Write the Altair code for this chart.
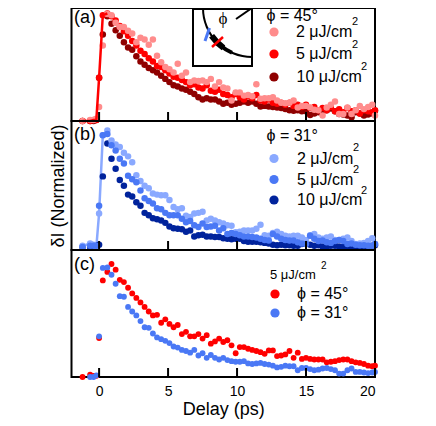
import altair as alt
import pandas as pd

delay = [-1.2,-0.65,-0.4,-0.2,0,0.27,0.6,0.9,
 1.2,1.5,1.8,2.1,2.4,2.7,3.0,3.3,3.6,3.9,4.2,4.5,4.8,5.1,5.4,5.7,6.0,6.3,6.6,6.9,
 7.2,7.5,7.8,8.1,8.4,8.7,9.0,9.3,9.6,9.9,10.2,10.5,10.8,11.1,11.4,11.7,12,12.3,12.6,12.9,
 13.2,13.5,13.8,14.1,14.4,14.7,15,15.3,15.6,15.9,16.2,16.5,16.8,17.1,17.4,17.7,18,18.3,18.6,18.9,
 19.2,19.5,19.8,20.0]

a_light = [0,.01,.01,.02,.13,.70,.99,.98,
 .91,.87,.87,.835,.81,.73,.77,.755,.705,.755,.605,.545,.50,.48,.45,.53,.42,.45,.36,.375,
 .37,.375,.36,.39,.32,.36,.31,.30,.19,.265,.265,.235,.24,.23,.34,.205,.21,.21,.22,.19,
 .17,.165,.17,.19,.125,.14,.14,.125,.105,.10,.05,.125,.15,.18,.065,.065,.125,.065,.10,.14,
 .11,.13,.15,.05]
a_red = [0,0,.01,.01,.40,.98,.995,.97,
 .93,.88,.83,.79,.74,.70,.65,.62,.58,.55,.51,.50,.47,.44,.41,.40,.38,.36,.33,.34,
 .31,.30,.33,.28,.27,.29,.25,.24,.22,.25,.22,.20,.23,.21,.24,.19,.18,.20,.17,.16,
 .17,.15,.17,.14,.15,.13,.15,.12,.13,.10,.12,.10,.13,.09,.11,.08,.12,.09,.10,.07,
 .10,.09,.08,.10]
a_dark = [0,0,0,.01,.40,.80,.97,.90,
 .84,.79,.73,.68,.66,.60,.55,.52,.49,.47,.45,.42,.39,.36,.33,.32,.30,.29,.27,.25,
 .22,.20,.21,.20,.20,.18,.16,.17,.15,.16,.17,.18,.17,.18,.16,.135,.14,.135,.13,.125,
 .12,.11,.10,.095,.10,.09,.09,.055,.07,.08,.09,.10,.115,.09,.065,.06,.05,.035,.08,.07,
 .05,.06,.07,.095]

b_light = [.01,.03,.02,0,.285,.95,.99,.905,
 .87,.85,.80,.77,.72,.61,.56,.52,.50,.455,.445,.44,.44,.40,.34,.32,.33,.265,.255,.285,
 .29,.30,.225,.24,.225,.21,.20,.185,.18,.125,.13,.14,.14,.14,.155,.19,.10,.095,.12,.13,
 .11,.095,.09,.095,.095,.08,.06,.10,.11,.08,.07,.08,.09,.06,.06,.07,.08,.05,.025,.03,
 .035,.05,.075,.025]
b_blue = [0,.01,.01,.01,.35,.95,.96,.865,
 .82,.75,.71,.605,.575,.55,.48,.415,.39,.37,.33,.32,.29,.27,.27,.27,.24,.21,.22,.185,
 .17,.20,.17,.175,.18,.14,.16,.11,.12,.11,.10,.09,.09,.085,.08,.07,.06,.055,.11,.09,
 .07,.06,.055,.055,.04,.03,.025,.095,.07,.05,.055,.04,.035,.05,.06,.05,.025,.03,.02,.015,
 .015,.01,.01,.025]
b_dark = [0,0,0,.01,.02,.60,.88,.75,
 .665,.57,.52,.445,.43,.38,.35,.29,.27,.245,.235,.225,.205,.175,.16,.155,.15,.13,.14,.09,
 .10,.105,.09,.09,.085,.085,.075,.07,.065,.07,.07,.05,.045,.045,.045,.04,.035,.03,.02,.015,
 .02,.015,.015,.01,.01,.025,.035,.02,.01,.015,.005,0,.01,.01,.005,0,0,.005,0,0,
 .005,.01,.01,.015]

c_red = [0,.02,.01,.01,.345,.855,.93,1.0,
 .95,.86,.84,.79,.74,.70,.66,.62,.58,.545,.55,.48,.51,.47,.44,.46,.38,.40,.36,.36,
 .38,.34,.37,.295,.315,.34,.31,.325,.28,.21,.265,.265,.25,.24,.23,.22,.205,.235,.235,.185,
 .19,.20,.23,.17,.215,.16,.17,.16,.155,.155,.155,.13,.135,.14,.15,.155,.155,.14,.13,.125,
 .115,.10,.095,.10]
c_blue = [None,0,0,.015,.36,.965,.97,.905,
 .825,.715,.71,.62,.58,.545,.495,.44,.435,.385,.35,.335,.32,.30,.27,.26,.24,.23,.215,.24,
 .19,.21,.17,.195,.17,.155,.17,.15,.14,.135,.135,.14,.12,.115,.12,.125,.115,.11,.10,.085,
 .09,.10,.095,.095,.06,.08,.08,.07,.06,.065,.075,.08,.07,.06,.03,.03,.06,.075,.045,.045,
 .04,.035,.04,.045]

tick_values = [0, 5, 10, 15, 20]

LIGHT_RED, RED, DARK_RED = "#ff8c8c", "#ff0000", "#8f0000"
LIGHT_BLUE, BLUE, DARK_BLUE = "#8aa9ff", "#4a78f5", "#00239c"
FONT = "Liberation Sans"
W = 303.5
XS = alt.Scale(domain=[-2, 20], nice=False, zero=False)
one = pd.DataFrame({"k": [0]})
RISE_POINTS = 7


def series(values, color, ys, size=42, xaxis=None, yaxis=None):
    df = pd.DataFrame({"d": delay, "v": values}).dropna()
    x = alt.X("d:Q", scale=XS, axis=xaxis)
    y = alt.Y("v:Q", scale=ys, axis=yaxis)
    return [alt.Chart(df).mark_circle(size=size, color=color, opacity=1).encode(x=x, y=y)]


def rise(values, color, ys, yaxis=None):
    df = pd.DataFrame({"d": delay, "v": values}).iloc[:RISE_POINTS]
    return [alt.Chart(df).mark_line(color=color, strokeWidth=2.5).encode(
        x=alt.X("d:Q", scale=XS, axis=None), y=alt.Y("v:Q", scale=ys, axis=yaxis))]


def ticks(h, xaxis=None):
    df = pd.DataFrame({"t": tick_values})
    return alt.Chart(df).mark_rule(color="black", strokeWidth=2).encode(
        x=alt.X("t:Q", scale=XS, axis=xaxis),
        y=alt.value(h), y2=alt.value(h - 9))


def text(x, y, s, size=16, font=FONT, **kw):
    return alt.Chart(one).mark_text(text=s, fontSize=size, font=font, align=kw.pop("align", "left"),
                                    baseline="middle", color="black", **kw).encode(
        x=alt.value(x), y=alt.value(y))


def dot(x, y, color):
    return alt.Chart(one).mark_circle(size=85, color=color, opacity=1).encode(
        x=alt.value(x), y=alt.value(y))


def seg(x1, y1, x2, y2, color="black", w=2):
    return alt.Chart(one).mark_rule(color=color, strokeWidth=w).encode(
        x=alt.value(x1), y=alt.value(y1), x2=alt.value(x2), y2=alt.value(y2))


def arc(cx, cy, r0, r1, t0, t1, color="black"):
    return alt.Chart(one).mark_arc(innerRadius=r0, outerRadius=r1, theta=t0, theta2=t1, color=color).encode(
        x=alt.value(cx), y=alt.value(cy))


# Panel origins in page pixels: left 71.5, tops 9, 122, 251
Xo = 71.5


def legend_rows(top, rows):
    out = []
    for (label, ly, color, tx, supx, supy) in rows:
        out.append(dot(274 - Xo, ly - top, color))
        out.append(text(tx - Xo, ly - top, label))
        out.append(text(supx - 3 - Xo, supy - top, "2", size=11))
    return out


# Panel a
Ta, Ha = 9, 113
ya = alt.Scale(domain=[0, Ha / 108], nice=False, zero=False)
inset_x0 = 193 - Xo
cx, cy = 252 - Xo, 9 - Ta
pa = []
pa += series(a_dark, DARK_RED, ya) + series(a_red, RED, ya) + series(a_light, LIGHT_RED, ya)
pa += rise(a_red, RED, ya)
pa.append(ticks(Ha))
pa.append(alt.Chart(one).mark_rect(fill="white", stroke="black", strokeWidth=2).encode(
    x=alt.value(inset_x0), x2=alt.value(cx), y=alt.value(1), y2=alt.value(58)))
pa.append(arc(cx, cy, 48, 50, 3.14159, 4.71239))
pa.append(arc(cx, cy, 46, 52, 3.14159 + 0.62, 3.14159 + 0.97))
pa.append(arc(cx, cy, 47, 51, 3.14159 + 0.42, 3.14159 + 0.70))
pa.append(seg(236 - Xo, 20 - Ta, cx, 9 - Ta))
pa.append(seg(205.0 - Xo, 42 - Ta, 209.5 - Xo, 29 - Ta, BLUE, 3))
pa.append(seg(212 - Xo, 48 - Ta, 223 - Xo, 38 - Ta, RED, 2.5))
pa.append(text(223 - Xo, 20 - Ta, "ϕ", size=17, font="Liberation Serif", align="center"))
pa.append(text(74 - Xo, 18.5 - Ta, "(a)", size=18))
pa.append(text(266.5 - Xo, 17 - Ta, "ϕ = 45°"))
pa += legend_rows(Ta, [("2 μJ/cm", 33, LIGHT_RED, 296, 355, 23),
                       ("5 μJ/cm", 55, RED, 296, 355, 46),
                       ("10 μJ/cm", 78, DARK_RED, 296.5, 364, 68)])
chart_a = alt.layer(*pa).properties(width=W, height=Ha)

# Panel b
Tb, Hb = 122, 129
yb = alt.Scale(domain=[-3 / 117.7, (Hb - 3) / 117.7], nice=False, zero=False)
yaxis = alt.Axis(title="δI (Normalized)", labels=False, ticks=False, domain=False, grid=False,
                 titleFontSize=18, titleFont=FONT, titleColor="black", titleFontWeight="normal", titlePadding=4)
pb = []
pb += rise(b_light, LIGHT_BLUE, yb, yaxis=yaxis)
pb += series(b_dark, DARK_BLUE, yb, yaxis=yaxis) + series(b_light, LIGHT_BLUE, yb, yaxis=yaxis) + series(b_blue, BLUE, yb, yaxis=yaxis)
pb.append(ticks(Hb))
pb.append(text(74 - Xo, 136 - Tb, "(b)", size=18))
pb.append(text(266.5 - Xo, 137 - Tb, "ϕ = 31°"))
pb += legend_rows(Tb, [("2 μJ/cm", 159.5, LIGHT_BLUE, 297, 356, 149),
                       ("5 μJ/cm", 180.5, BLUE, 297, 356, 171),
                       ("10 μJ/cm", 201, DARK_BLUE, 297, 364, 192)])
chart_b = alt.layer(*pb).properties(width=W, height=Hb)

# Panel c
Tc, Hc = 251, 127
yc = alt.Scale(domain=[0, Hc / 113], nice=False, zero=False)
xaxis = alt.Axis(values=tick_values, title="Delay (ps)", tickSize=0, domain=False, grid=False,
                 labelFontSize=14, labelFont=FONT, labelColor="black", labelPadding=7,
                 titleFontSize=18, titleFont=FONT, titleColor="black", titleFontWeight="normal", titlePadding=2)
pc = []
pc += series(c_red, RED, yc, size=34, xaxis=xaxis)
pc += series(c_blue, BLUE, yc, size=34, xaxis=xaxis)
pc.append(ticks(Hc, xaxis=xaxis))
pc.append(text(74 - Xo, 266 - Tc, "(c)", size=18))
pc.append(text(270 - Xo, 276 - Tc, "5 μJ/cm", size=13))
pc.append(text(321 - Xo, 267 - Tc, "2", size=10))
pc.append(dot(275 - Xo, 295 - Tc, RED))
pc.append(dot(275 - Xo, 314 - Tc, BLUE))
pc.append(text(297 - Xo, 295 - Tc, "ϕ = 45°"))
pc.append(text(297 - Xo, 314 - Tc, "ϕ = 31°"))
chart_c = alt.layer(*pc).properties(width=W, height=Hc)

chart = alt.vconcat(chart_a, chart_b, chart_c, spacing=0, bounds="flush").properties(
    padding={"left": 39.5, "top": -2, "right": 5, "bottom": 4}
).configure_view(stroke="black", strokeWidth=2)

chart.save("out.html", embed_options={"renderer": "svg", "actions": False})
